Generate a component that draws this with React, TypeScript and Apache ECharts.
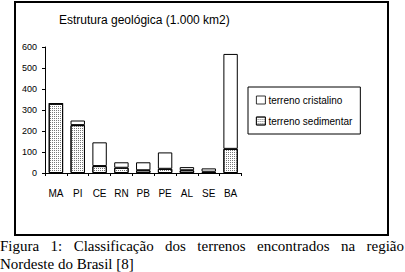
import React, { useEffect, useRef } from "react";
import * as echarts from "echarts";

const categories = ["MA", "PI", "CE", "RN", "PB", "PE", "AL", "SE", "BA"];
const sedimentar = [330, 228, 33, 25, 13, 20, 13, 6, 115];
const cristalino = [0, 22, 113, 26, 38, 78, 15, 16, 452];
const yTicks = { min: 0, max: 600, interval: 100 };
const chartTitle = "Estrutura geológica (1.000 km2)";
const seriesNames = ["terreno cristalino", "terreno sedimentar"];
const captionLine1 = "Figura 1: Classificação dos terrenos encontrados na região";
const captionLine2 = "Nordeste do Brasil [8]";

const SANS = '"Liberation Sans", Arial, sans-serif';
const SERIF = '"Liberation Serif", "Times New Roman", serif';

function justifyWords(text: string, font: string, width: number) {
  const words = text.split(" ");
  const canvas = document.createElement("canvas");
  const ctx = canvas.getContext("2d")!;
  ctx.font = font;
  const widths = words.map((w) => ctx.measureText(w).width);
  const total = widths.reduce((a, b) => a + b, 0);
  const gap = (width - total) / (words.length - 1);
  const out: { text: string; x: number }[] = [];
  let x = 0;
  words.forEach((w, i) => {
    out.push({ text: w, x });
    x += widths[i] + gap;
  });
  return out;
}

export default function App() {
  const ref = useRef<HTMLDivElement>(null);
  useEffect(() => {
    if (!ref.current) return;
    const chart = echarts.init(ref.current, null, { renderer: "svg" });
    const capFont = 15;
    const words = justifyWords(captionLine1, `${capFont}px ${SERIF}`, 404);
    const captionTexts: any[] = words.map((w) => ({
      type: "text",
      x: w.x,
      y: 246,
      style: {
        text: w.text,
        font: `${capFont}px ${SERIF}`,
        fill: "#000",
        textVerticalAlign: "middle",
      },
    }));
    captionTexts.push({
      type: "text",
      x: 0,
      y: 264,
      style: {
        text: captionLine2,
        font: `${capFont}px ${SERIF}`,
        fill: "#000",
        textVerticalAlign: "middle",
      },
    });
    const stipple = {
      symbol: "rect",
      symbolSize: 1,
      dashArrayX: [1, 1],
      dashArrayY: [1, 1],
      color: "#777",
      backgroundColor: "#fff",
    };
    chart.setOption({
      animation: false,
      backgroundColor: "#fff",
      title: {
        text: chartTitle,
        left: 59,
        top: 14,
        padding: 0,
        textStyle: {
          fontFamily: SANS,
          fontSize: 12,
          fontWeight: "normal",
          color: "#000",
        },
      },
      legend: {
        orient: "vertical",
        left: 248,
        top: 87,
        data: seriesNames,
        icon: "rect",
        borderColor: "#000",
        borderWidth: 1,
        padding: [7, 8, 7, 8],
        itemWidth: 9,
        itemHeight: 8,
        itemGap: 9,
        selectedMode: false,
        itemStyle: { borderWidth: 0.8 },
        textStyle: {
          fontFamily: SANS,
          fontSize: 10,
          color: "#000",
          lineHeight: 12,
          padding: [0, 0, 0, -2],
        },
      },
      grid: { left: 45, top: 47, width: 196.5, height: 126 },
      xAxis: {
        type: "category",
        data: categories,
        axisLine: { lineStyle: { color: "#000", width: 1 } },
        axisTick: { show: true, length: 3, lineStyle: { color: "#000" } },
        axisLabel: {
          margin: 15,
          fontFamily: SANS,
          fontSize: 10,
          color: "#000",
        },
      },
      yAxis: {
        type: "value",
        min: yTicks.min,
        max: yTicks.max,
        interval: yTicks.interval,
        splitLine: { show: false },
        axisLine: { show: true, lineStyle: { color: "#000", width: 1 } },
        axisTick: { show: true, length: 3, lineStyle: { color: "#000" } },
        axisLabel: {
          margin: 8,
          fontFamily: SANS,
          fontSize: 9,
          color: "#000",
        },
      },
      series: [
        {
          name: seriesNames[1],
          type: "bar",
          stack: "total",
          data: sedimentar,
          barCategoryGap: "34%",
          itemStyle: {
            color: "#fff",
            borderColor: "#000",
            borderWidth: 1,
            decal: stipple,
          },
        },
        {
          name: seriesNames[0],
          type: "bar",
          stack: "total",
          data: cristalino,
          barCategoryGap: "34%",
          itemStyle: {
            color: "#fff",
            borderColor: "#000",
            borderWidth: 1,
          },
        },
      ],
      graphic: [
        {
          type: "rect",
          shape: { x: 15, y: 2, width: 373, height: 233 },
          style: { fill: "none", stroke: "#000", lineWidth: 2 },
          silent: true,
        },
        ...captionTexts,
      ],
    });
    return () => chart.dispose();
  }, []);
  return (
    <div
      ref={ref}
      style={{ position: "absolute", left: 0, top: 0, width: 405, height: 272 }}
    />
  );
}
